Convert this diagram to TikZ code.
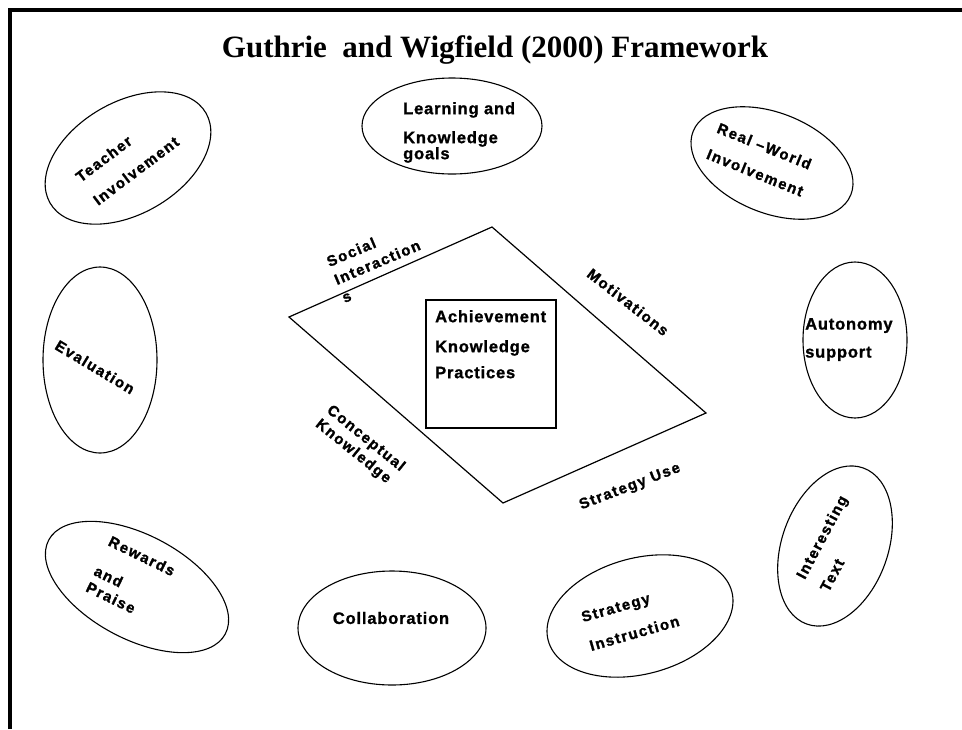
\documentclass[tikz,border=0pt]{standalone}
\usepackage{fontspec}
\setmainfont{Liberation Serif}
\newfontfamily\lblfamily[LetterSpace=10,FakeBold=1.5]{Liberation Sans Bold}
\newfontfamily\boxfamily[LetterSpace=5,FakeBold=1.2]{Liberation Sans Bold}
\usetikzlibrary{shapes.geometric}

\begin{document}
\begin{tikzpicture}[x=1pt,y=-1pt,
        oval/.style={ellipse,draw,line width=1.1pt,inner sep=0pt},
        lbl/.style={font=\lblfamily\fontsize{15}{#1}\selectfont,align=left,inner sep=0pt},
        lbl/.default=18,
        boxlbl/.style={font=\boxfamily\fontsize{16.5}{#1}\selectfont,align=left,inner sep=0pt},
        boxlbl/.default=20]
        \useasboundingbox (0,0) rectangle (962,729);
        \draw[line width=4pt] (10,729) -- (10,10) -- (962,10);
        \node[font=\bfseries\fontsize{31}{36}\selectfont] (title) at (495,50) {Guthrie\ \ and Wigfield (2000) Framework};

        \node[oval,minimum width=180pt,minimum height=112pt,rotate=30] (teacher) at (128,158) {};
        \node[oval,minimum width=180pt,minimum height=96pt] (goals) at (452,126) {};
        \node[oval,minimum width=170pt,minimum height=100pt,rotate=-22] (realworld) at (772,163) {};
        \node[oval,minimum width=114pt,minimum height=186pt] (evaluation) at (100,360) {};
        \node[oval,minimum width=104pt,minimum height=156pt] (autonomy) at (855,340) {};
        \node[oval,minimum width=200pt,minimum height=104pt,rotate=-28] (rewards) at (137,587) {};
        \node[oval,minimum width=188pt,minimum height=114pt] (collab) at (392,628) {};
        \node[oval,minimum width=190pt,minimum height=116pt,rotate=15] (instruction) at (640,616) {};
        \node[oval,minimum width=166pt,minimum height=106pt,rotate=70] (interesting) at (835,546) {};

        \node[lbl=29,rotate=37,anchor=north west] (teachertext) at (74,174) {Teacher\\Involvement};
        \node[boxlbl=16,anchor=north west] (goalstext) at (403,102) {Learning and\\[13pt]Knowledge\\goals};
        \node[lbl=28,rotate=-22,anchor=north west] (realworldtext) at (720,122) {Real –World\\Involvement};
        \node[lbl,rotate=-31] (evaluationtext) at (95,367) {Evaluation};
        \node[boxlbl=28,anchor=north west] (autonomytext) at (805,318) {Autonomy\\support};
        \node[lbl=18,rotate=-26,anchor=north west] (rewardstext) at (112,535) {Rewards\\[15pt]and\\Praise};
        \node[boxlbl] (collabtext) at (391,618) {Collaboration};
        \node[lbl=30,rotate=16,anchor=north west] (instructiontext) at (580,612) {Strategy\\Instruction};
        \node[lbl=27,rotate=62,anchor=north west] (interestingtext) at (795,575) {Interesting\\Text};

        \coordinate (ptop) at (492,227);
        \coordinate (pright) at (706,413);
        \coordinate (pbottom) at (503,503);
        \coordinate (pleft) at (289,317);
        \draw[line width=1.2pt] (ptop) -- (pright) -- (pbottom) -- (pleft) -- cycle;
        \node[draw,line width=1.2pt,minimum width=130pt,minimum height=128pt] (core) at (491,364) {};
        \node[boxlbl=26,anchor=north west] (coretext) at (435,310) {Achievement\\[4pt]Knowledge\\Practices};

        \node[lbl=19.5,rotate=23,anchor=north west] (social) at (325,257) {Social\\Interaction\\s};
        \node[lbl,rotate=-38] (motivations) at (628,302) {Motivations};
        \node[lbl=18,rotate=-39,anchor=north west] (conceptual) at (333,403) {Conceptual\\Knowledge};
        \node[lbl,rotate=21] (strategyuse) at (630,487) {Strategy Use};
\end{tikzpicture}
\end{document}
